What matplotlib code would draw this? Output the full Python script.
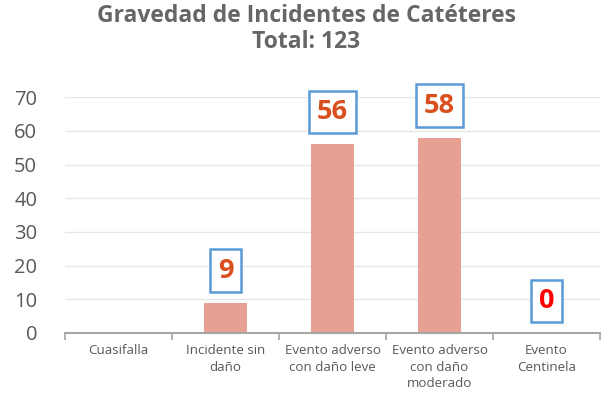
import matplotlib
matplotlib.use("Agg")
import matplotlib.pyplot as plt
import numpy as np

categories = ["Cuasifalla", "Incidente sin\ndaño", "Evento adverso\ncon daño leve", "Evento adverso\ncon daño\nmoderado", "Evento\nCentinela"]
values = [0, 9, 56, 58, 0]
show_label = [False, True, True, True, True]
label_colors = ["#D9501E", "#D9501E", "#D9501E", "#D9501E", "#FF0000"]

plt.rcParams['font.family'] = ['Open Sans', 'DejaVu Sans']

fig = plt.figure(figsize=(6.13, 4.05), dpi=100)
ax = fig.add_axes([0.106, 0.178, 0.873, 0.582])

x = np.arange(len(categories))
ax.bar(x, values, width=0.4, color="#E8A092", zorder=2)
ax.set_xlim(-0.5, len(categories) - 0.5)
ax.set_ylim(0, 70)
ax.set_yticks(np.arange(0, 71, 10))
ax.yaxis.grid(True, color="#E6E6E6", linewidth=1, zorder=0)
ax.set_axisbelow(True)
for s in ["left", "right", "top"]:
    ax.spines[s].set_visible(False)
ax.spines["bottom"].set_color("#A6A6A6")
ax.spines["bottom"].set_linewidth(1.5)
ax.tick_params(axis="y", length=0, labelsize=14.5, labelcolor="#595959", pad=20)
ax.set_xticks(x)
ax.set_xticklabels(categories, fontsize=9.6, color="#595959", linespacing=1.35)
ax.tick_params(axis="x", length=0, pad=8)
ax.set_xticks(np.arange(-0.5, len(categories), 1), minor=True)
ax.tick_params(axis="x", which="minor", length=5, color="#A6A6A6", width=1.2)

for xi, v, c, show in zip(x, values, label_colors, show_label):
    if not show:
        continue
    ax.text(xi, v + 9.5, f"{v}", ha="center", va="center", fontsize=19.5,
            fontweight="bold", color=c, zorder=5,
            bbox=dict(boxstyle="square,pad=0.3", fc="white", ec="#5B9BD5", lw=1.8))

fig.suptitle("Gravedad de Incidentes de Catéteres\nTotal: 123", y=0.99,
             fontsize=16.5, fontweight="bold", color="#666666", linespacing=1.1)

fig.savefig("out.png", dpi=100)
